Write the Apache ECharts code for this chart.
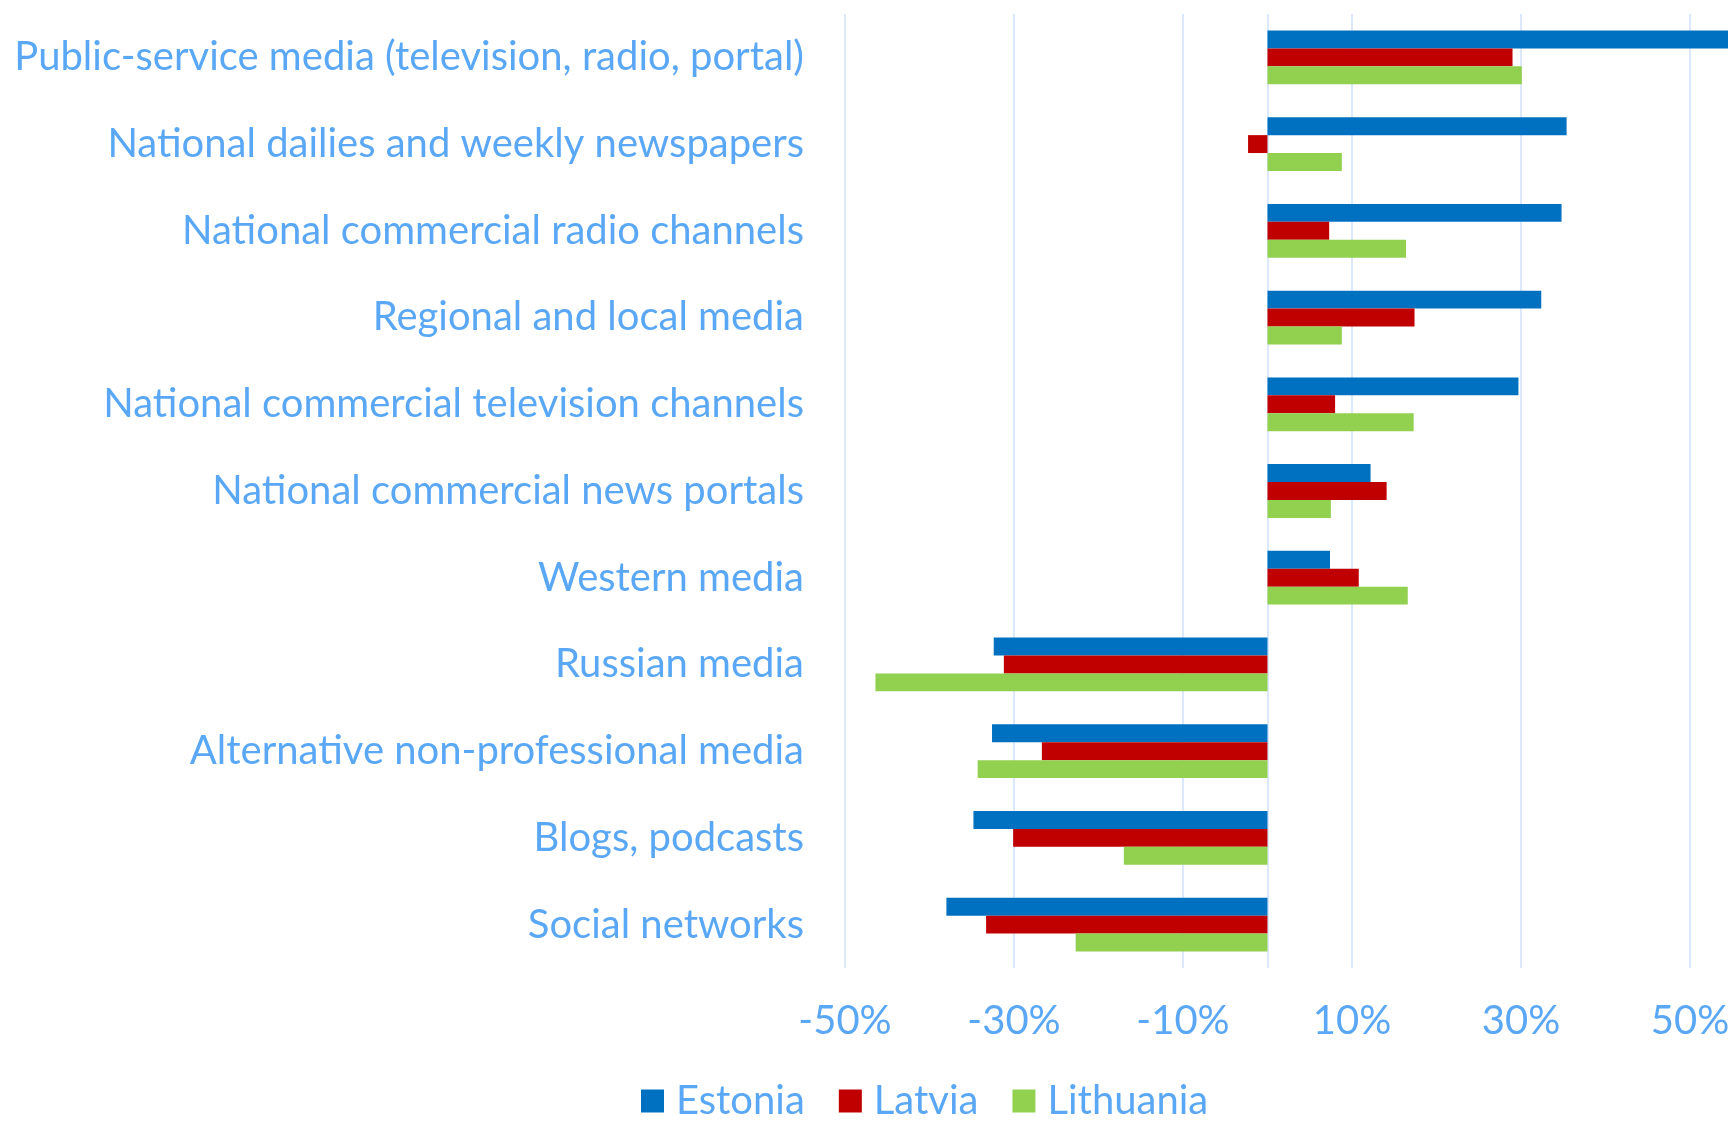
<!DOCTYPE html>
<html>
<head>
<meta charset="utf-8">
<script src="https://cdn.jsdelivr.net/npm/echarts@6/dist/echarts.min.js"></script>
<style>
  html, body { margin: 0; padding: 0; background: #fff; }
  #chart { width: 1729px; height: 1125px; }
</style>
</head>
<body>
<div id="chart"></div>
<script>
// categories, top to bottom
const categories = [
  'Public-service media (television, radio, portal)',
  'National dailies and weekly newspapers',
  'National commercial radio channels',
  'Regional and local media',
  'National commercial television channels',
  'National commercial news portals',
  'Western media',
  'Russian media',
  'Alternative non-professional media',
  'Blogs, podcasts',
  'Social networks'
]
const seriesNames = ['Estonia', 'Latvia', 'Lithuania']
const estonia = [54.5, 35.4, 34.8, 32.4, 29.7, 12.2, 7.4, -32.4, -32.6, -34.8, -38.0]
const latvia = [29.0, -2.3, 7.3, 17.4, 8.0, 14.1, 10.8, -31.2, -26.7, -30.1, -33.3]
const lithuania = [30.1, 8.8, 16.4, 8.8, 17.3, 7.5, 16.6, -46.4, -34.3, -17.0, -22.7]

const colors = ['#0070C0', '#C00000', '#92D050']
const textColor = '#5AA8F5'
const gridColor = '#DCE9FA'
const font = 'Lato, "Open Sans", sans-serif'

const chart = echarts.init(document.getElementById('chart'))

// gridlines at -50, -30, -10, 0, 10, 30, 50 only
const none = 'rgba(0,0,0,0)'
const splitColors = [gridColor, none, gridColor, none, gridColor, gridColor, gridColor, none, gridColor, none, gridColor, none]

chart.setOption({
  animation: false,
  color: colors,
  grid: { left: 845, right: 1, top: 14, bottom: 157, containLabel: false, outerBoundsMode: 'none' },
  legend: {
    data: seriesNames,
    left: 636,
    top: 1076,
    itemWidth: 23,
    itemHeight: 23,
    itemGap: 34,
    icon: 'rect',
    textStyle: { color: textColor, fontSize: 40, fontFamily: font, padding: [0, 0, 0, 7] }
  },
  xAxis: {
    type: 'value',
    min: -50,
    max: 54.5,
    interval: 10,
    axisLine: { show: false },
    axisTick: { show: false },
    splitLine: { show: true, lineStyle: { color: splitColors, width: 2 } },
    axisLabel: {
      color: textColor,
      fontSize: 40,
      fontFamily: font,
      margin: 33,
      formatter: v => (Math.abs(v) % 20 === 10 ? v + '%' : '')
    }
  },
  yAxis: {
    type: 'category',
    inverse: true,
    data: categories,
    axisLine: { show: false, onZero: false },
    axisTick: { show: false },
    axisLabel: { color: textColor, fontSize: 40, fontFamily: font, margin: 41 }
  },
  series: [estonia, latvia, lithuania].map((d, i) => ({
    name: seriesNames[i],
    type: 'bar',
    data: d,
    barGap: '0%',
    barCategoryGap: '38%',
    itemStyle: { color: colors[i] }
  }))
})
</script>
</body>
</html>
